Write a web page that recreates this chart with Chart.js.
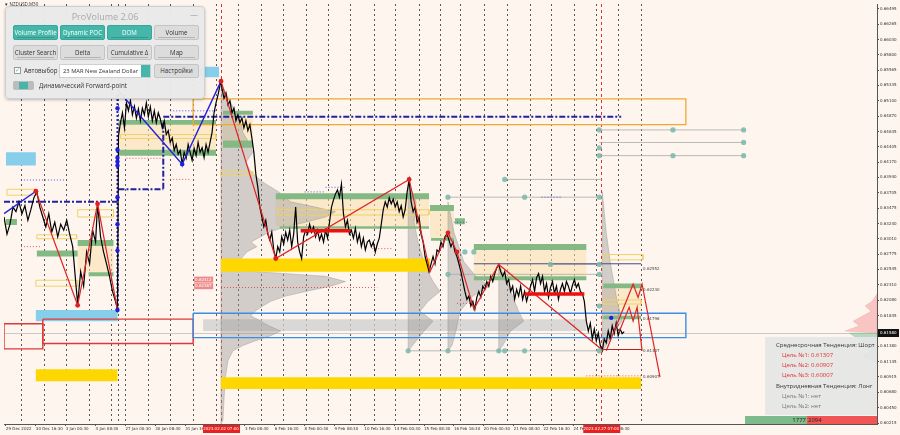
<!DOCTYPE html>
<html>
<head>
<meta charset="utf-8">
<script src="https://cdn.jsdelivr.net/npm/chart.js@4.4.1/dist/chart.umd.min.js"></script>
<style>
html, body { margin: 0; padding: 0; background: #fdf5ee; }
#wrap { position: relative; width: 900px; height: 435px; overflow: hidden; font-family: "Open Sans", Roboto, sans-serif; }
#wrap canvas { position: absolute; left: 0; top: 0; }
.sym { position: absolute; left: 4px; top: 1px; font-size: 4.5px; color: #333; }
.pv { position: absolute; left: 5px; top: 6px; width: 198px; height: 91px; background: rgba(233,233,233,0.96); border: 1px solid #cfcfcf; border-radius: 4px; box-shadow: 0 1px 3px rgba(0,0,0,.25); }
.pv-title { position: absolute; left: 0; top: 3px; width: 100%; text-align: center; font-size: 9px; color: #a8a8a8; }
.pv-min { position: absolute; right: 6px; top: 1px; font-size: 8px; color: #999; }
.btn { position: absolute; width: 45px; height: 15px; border-radius: 2px; font-size: 6.2px; line-height: 14px; text-align: center; box-sizing: border-box; white-space: nowrap; }
.btn.on { background: #45b7aa; color: #fff; border: 1px solid #3aa598; }
.btn.off { background: #dcdcdc; color: #333; border: 1px solid #c4c4c4; }
.btn i { position: absolute; left: 3px; right: 3px; bottom: 1px; height: 1px; background: rgba(0,0,0,0.18); }
.chk { position: absolute; left: 8px; top: 60px; width: 5px; height: 5px; border: 1px solid #999; background: #fff; font-size: 6px; line-height: 5px; color: #45b7aa; }
.lbl { position: absolute; font-size: 6.2px; color: #333; white-space: nowrap; }
.dd { position: absolute; left: 53px; top: 57px; width: 92px; height: 14px; background: #fff; border: 1px solid #cfcfcf; box-sizing: border-box; font-size: 5.8px; line-height: 12px; padding-left: 3px; color: #333; white-space: nowrap; overflow: hidden; }
.dd b { position: absolute; right: 0; top: 0; width: 9px; height: 12px; background: #45b7aa; }
.tg { position: absolute; left: 7px; top: 74px; width: 21px; height: 9px; background: #bcbcbc; border-radius: 2px; }
.tg b { position: absolute; left: 6px; top: 1px; width: 9px; height: 7px; background: #45b7aa; }
.info { position: absolute; left: 765px; top: 337px; width: 112px; height: 78px; background: rgba(229,229,229,0.93); }
.info div { position: absolute; font-size: 6px; white-space: nowrap; }
.bar { position: absolute; top: 416px; height: 8px; font-size: 6px; line-height: 8px; color: #222; box-sizing: border-box; }
</style>
</head>
<body>
<div id="wrap">
  <canvas id="c" width="900" height="435"></canvas>
  <div class="sym">▼ NZDUSD,M30</div>
  <div class="pv">
    <div class="pv-title">ProVolume 2.06</div>
    <div class="pv-min">—</div>
    <div class="btn on" style="left:7px;top:18px">Volume Profile<i></i></div>
    <div class="btn on" style="left:54px;top:18px">Dynamic POC<i></i></div>
    <div class="btn on" style="left:101px;top:18px">DOM<i></i></div>
    <div class="btn off" style="left:148px;top:18px">Volume<i></i></div>
    <div class="btn off" style="left:7px;top:38px">Cluster Search<i></i></div>
    <div class="btn off" style="left:54px;top:38px">Delta<i></i></div>
    <div class="btn off" style="left:101px;top:38px">Cumulative Δ<i></i></div>
    <div class="btn off" style="left:148px;top:38px">Map<i></i></div>
    <div class="chk">✓</div>
    <div class="lbl" style="left:18px;top:59px">Автовыбор</div>
    <div class="dd">23 MAR New Zealand Dollar<b></b></div>
    <div class="btn off" style="left:148px;top:57px;height:14px;line-height:12px">Настройки</div>
    <div class="tg"><b></b></div>
    <div class="lbl" style="left:33px;top:74px">Динамический Forward-point</div>
  </div>
  <div class="info">
    <div style="left:11px;top:4px;color:#333">Среднесрочная Тенденция: Шорт</div>
    <div style="left:17px;top:14px;color:#e03030">Цель №1: 0.61307</div>
    <div style="left:17px;top:24px;color:#e03030">Цель №2: 0.60907</div>
    <div style="left:17px;top:34px;color:#e03030">Цель №3: 0.60007</div>
    <div style="left:11px;top:45px;color:#333">Внутридневная Тенденция: Лонг</div>
    <div style="left:17px;top:55px;color:#777">Цель №1: нет</div>
    <div style="left:17px;top:65px;color:#777">Цель №2: нет</div>
  </div>
  <div class="bar" style="left:745px;width:62px;background:#7dbb8d;text-align:right;padding-right:1px">1777</div>
  <div class="bar" style="left:807px;width:70px;background:#f05454;padding-left:1px">2094</div>
</div>
<script>
// ── Axis data ─────────────────────────
const yTicks = [0.66495, 0.66265, 0.66030, 0.65800, 0.65565, 0.65335, 0.65100, 0.64870, 0.64635, 0.64405,
    0.64170, 0.63940, 0.63705, 0.63475, 0.63240, 0.63010, 0.62775, 0.62545, 0.62310, 0.62080,
    0.61845, 0.61380, 0.61145, 0.60915, 0.60680, 0.60450, 0.60215];
const xTickPos = [2, 32, 62, 92, 122, 152, 182, 212, 242, 272, 302, 332, 362, 392, 422, 452, 482, 512, 542, 572, 602];
const xLabels = ['29 Dec 2022', '30 Dec 16:30', '3 Jan 00:30', '4 Jan 08:30', '27 Jan 00:30', '30 Jan 08:30',
    '31 Jan 16:30', '2 Feb 00:30', '3 Feb 08:30', '6 Feb 16:30', '8 Feb 00:30', '9 Feb 08:30', '10 Feb 16:30',
    '14 Feb 00:30', '15 Feb 08:30', '16 Feb 16:30', '20 Feb 00:30', '21 Feb 08:30', '22 Feb 16:30',
    '24 Feb 00:30', '27 Feb 08:30'];
const daySeps = [17, 40, 62, 85, 107, 115, 122, 145, 167, 190, 213, 235, 258, 280, 303, 325, 348, 372, 393,
    417, 438, 458, 482, 505, 528, 550, 573, 595, 617, 640];
const sessionMarks = [[218, '2023.02.02 07:00'], [600, '2023.02.27 07:00']];
const lastPrice = 0.61580;

// ── Price (bar index / close) ─────────
const priceX = [0, 3, 6, 9, 12, 15, 18, 21, 24, 27, 30, 33, 36, 39, 42, 45, 48, 51, 54, 57, 60, 63, 66, 69, 72, 74, 77,
    80, 83, 86, 89, 92, 94, 97, 100, 103, 106, 109, 112, 114,
    115, 117, 119, 121, 123, 125, 127, 129, 131, 133, 135, 137, 139, 141, 143, 145, 147, 149, 151, 153, 155, 157,
    159, 161, 163, 165, 167, 169, 171, 173, 175, 177, 179, 181, 183, 185, 187, 189, 191, 193, 195, 197, 199, 201,
    203, 205, 207, 209, 211, 213, 215, 217, 218,
    219, 221, 223, 225, 227, 229, 231, 233, 235, 237, 239, 241, 243, 245, 247, 249, 251, 253, 255, 257, 259, 261,
    263, 265, 267, 269, 271, 273, 275, 277, 279, 281, 283, 285, 287, 289, 291, 293, 295, 297, 299, 301, 303, 305,
    307, 309, 311, 313, 315, 317, 319, 321, 323, 325, 327, 329, 331, 333, 335, 337, 339, 341, 343, 345, 347, 349,
    351, 353, 355, 357, 359, 361, 363, 365, 367, 369, 371, 373, 375, 377, 379, 381, 383, 385, 387, 389, 391, 393,
    395, 397, 399, 401, 403, 405, 407,
    409, 411, 413, 415, 417, 419, 421, 423, 425, 427, 429, 431, 433, 435, 437, 439, 441, 443, 445, 447, 449, 451,
    453, 455, 457, 459, 461, 463, 465, 467, 469, 471, 473, 475, 477, 479, 481, 483, 485, 487, 489, 491, 493, 495,
    497, 499, 501, 503, 505, 507, 509, 511, 513, 515, 517, 519, 521, 523, 525, 527, 529, 531, 533, 535, 537, 539,
    541, 543, 545, 547, 549, 551, 553, 555, 557, 559, 561, 563, 565, 567, 569, 571, 573, 575, 577, 579, 581, 583,
    585, 587, 589, 591, 593, 595, 597, 599, 601, 603, 605, 607, 609, 611, 613, 615, 617, 619, 621, 623];
const priceY = [0.6334, 0.6308, 0.6323, 0.6349, 0.6342, 0.6357, 0.6339, 0.6351, 0.6329, 0.6345, 0.6363, 0.6372,
    0.6349, 0.6334, 0.6319, 0.6339, 0.6311, 0.6326, 0.6304, 0.6323, 0.6314, 0.6329, 0.6308, 0.6289, 0.6236,
    0.6202, 0.6251, 0.6229, 0.6281, 0.6263, 0.6314, 0.6296, 0.6354, 0.6304, 0.6281, 0.6263, 0.6244, 0.6221,
    0.6206, 0.6194,
    0.6457, 0.6477, 0.6492, 0.6469, 0.6507, 0.6495, 0.6511, 0.6489, 0.6502, 0.6484, 0.6498, 0.6480, 0.6499,
    0.6489, 0.6507, 0.6486, 0.6501, 0.6480, 0.6495, 0.6477, 0.6492, 0.6483, 0.6469, 0.6480, 0.6459, 0.6465,
    0.6447, 0.6454, 0.6435, 0.6444, 0.6429, 0.6435, 0.6414, 0.6432, 0.6423, 0.6444, 0.6432, 0.6420, 0.6438,
    0.6427, 0.6447, 0.6432, 0.6439, 0.6424, 0.6444, 0.6432, 0.6447, 0.6462, 0.6492, 0.6507, 0.6519, 0.6534, 0.6540,
    0.6529, 0.6514, 0.6522, 0.6504, 0.6510, 0.6492, 0.6499, 0.6480, 0.6489, 0.6477, 0.6484, 0.6469, 0.6480,
    0.6465, 0.6474, 0.6454, 0.6432, 0.6399, 0.6379, 0.6349, 0.6334, 0.6319, 0.6329, 0.6308, 0.6299, 0.6311,
    0.6284, 0.6271, 0.6289, 0.6281, 0.6304, 0.6293, 0.6311, 0.6299, 0.6314, 0.6289, 0.6308, 0.6349, 0.6296,
    0.6281, 0.6271, 0.6304, 0.6314, 0.6308, 0.6323, 0.6311, 0.6319, 0.6304, 0.6314, 0.6299, 0.6308, 0.6296,
    0.6314, 0.6302, 0.6326, 0.6349, 0.6360, 0.6369, 0.6375, 0.6364, 0.6384, 0.6339, 0.6319, 0.6329, 0.6308,
    0.6314, 0.6302, 0.6317, 0.6296, 0.6308, 0.6289, 0.6302, 0.6284, 0.6296, 0.6299, 0.6289, 0.6296, 0.6281,
    0.6293, 0.6302, 0.6323, 0.6345, 0.6357, 0.6349, 0.6363, 0.6354, 0.6361, 0.6349, 0.6357, 0.6342, 0.6351,
    0.6334, 0.6345, 0.6372, 0.6390,
    0.6357, 0.6342, 0.6349, 0.6326, 0.6334, 0.6308, 0.6296, 0.6274, 0.6263, 0.6251, 0.6263, 0.6274, 0.6263,
    0.6284, 0.6281, 0.6296, 0.6289, 0.6304, 0.6308, 0.6299, 0.6289, 0.6296, 0.6281, 0.6274, 0.6263, 0.6251,
    0.6236, 0.6221, 0.6209, 0.6214, 0.6199, 0.6206, 0.6194, 0.6212, 0.6221, 0.6212, 0.6229, 0.6224, 0.6236,
    0.6229, 0.6244, 0.6236, 0.6248, 0.6257, 0.6262, 0.6251, 0.6244, 0.6251, 0.6233, 0.6239, 0.6221, 0.6229,
    0.6209, 0.6224, 0.6214, 0.6229, 0.6209, 0.6221, 0.6206, 0.6218, 0.6229, 0.6239, 0.6221, 0.6242, 0.6248,
    0.6233, 0.6244, 0.6221, 0.6233, 0.6212, 0.6227, 0.6236, 0.6218, 0.6229, 0.6209, 0.6224, 0.6233, 0.6221,
    0.6236, 0.6229, 0.6218, 0.6230, 0.6239, 0.6227, 0.6233, 0.6221, 0.6218, 0.6206, 0.6176, 0.6161, 0.6173,
    0.6149, 0.6164, 0.6146, 0.6158, 0.6139, 0.6131, 0.6149, 0.6143, 0.6161, 0.6149, 0.6169, 0.6157, 0.6173,
    0.6154, 0.6164, 0.6157, 0.6160];

// ── Zones [x1, x2, top, bottom] ───────
const peachZones = [[115, 213, 0.6474, 0.6436], [74, 110, 0.6290, 0.6250], [220, 250, 0.6489, 0.6450],
    [273, 427, 0.6361, 0.6320], [428, 452, 0.6343, 0.6302], [472, 585, 0.6284, 0.6244], [602, 640, 0.6226, 0.6184]];
const greenZones = [[2, 13, 0.6331, 0.6322], [33, 74, 0.6283, 0.6274], [74, 110, 0.6299, 0.6290],
    [85, 110, 0.6250, 0.6244], [115, 213, 0.6481, 0.6474], [115, 213, 0.6436, 0.6427], [220, 250, 0.6495, 0.6489],
    [220, 250, 0.6450, 0.6439], [273, 427, 0.6370, 0.6361], [277, 427, 0.6320, 0.6316], [428, 452, 0.6352, 0.6343],
    [453, 463, 0.6332, 0.6323], [472, 585, 0.6293, 0.6284], [472, 585, 0.6244, 0.6238], [429, 452, 0.6302, 0.6298],
    [602, 640, 0.6233, 0.6226], [602, 640, 0.6184, 0.6179]];
const goldZones = [[32, 114, 0.6103, 0.6085], [218, 640, 0.6091, 0.6073], [218, 428, 0.6271, 0.6251]];
const skyZones = [[2, 32, 0.6432, 0.6412], [185, 216, 0.6562, 0.6546], [32, 114, 0.6193, 0.6176]];
const grayBand = [[200, 585, 0.6179, 0.6161]];
const redBoxes = [[0, 39, 0.6172, 0.6134], [39, 190, 0.6179, 0.6142]];
const blueBoxes = [[190, 685, 0.6188, 0.6151]];
const orangeBoxes = [[190, 685, 0.6513, 0.6474]];
const yellowBoxes = [[3, 32, 0.6376, 0.6367], [33, 73, 0.6307, 0.6301], [74, 110, 0.6345, 0.6334],
    [117, 213, 0.6459, 0.6453], [32, 74, 0.6238, 0.6229], [275, 427, 0.6345, 0.6337], [218, 250, 0.6403, 0.6397],
    [602, 642, 0.6277, 0.6269], [602, 640, 0.6208, 0.6202]];

// ── Levels [x1, x2, price] ────────────
const navyDashDot = [[160, 620, 0.6486], [0, 114, 0.6357], [115, 160, 0.6376]];
const navyVert = [[160, 0.6477, 0.6376]];
const blueVert = [[114, 0.6519, 0.6193]];
const blueDash = [[17, 62, 0.6390], [167, 213, 0.6495], [302, 323, 0.6372], [323, 343, 0.6379], [452, 467, 0.6326], [540, 560, 0.6364]];
const redDash = [[123, 160, 0.6423], [167, 188, 0.6391], [17, 37, 0.6289], [218, 375, 0.6227], [370, 390, 0.6286], [455, 470, 0.6203], [585, 640, 0.6093]];
const grayLines = [[598, 745, 0.6466], [598, 745, 0.6447], [598, 745, 0.6427], [446, 601, 0.6364], [503, 601, 0.6391],
    [549, 601, 0.6262], [406, 601, 0.6131], [446, 601, 0.6247]];
const slateLine = [[472, 640, 0.6263]];
const thickRed = [[298, 348, 0.6313], [523, 583, 0.6217]];
const targetLine = [[602, 640, 0.6133]];
const priceMarks = [0.62552, 0.62230, 0.61798, 0.61307, 0.60907];
const pinkMarks = [['0.62412', 0.6239], ['0.62367', 0.6229]];

// ── Zigzags [x, price] ────────────────
const blueZig1 = [[0, 0.6339], [32, 0.6373]];
const blueZig2 = [[115, 0.6525], [179, 0.6414], [218, 0.6540]];
const redZig1 = [[32, 0.6373], [74, 0.6200], [94, 0.6354], [114, 0.6193]];
const redZig2 = [[218, 0.6540], [273, 0.6271], [407, 0.6391], [428, 0.6251], [446, 0.6310], [455, 0.6281],
    [472, 0.6194], [497, 0.6262], [602, 0.6131]];
const proj1 = [[605, 0.6131], [632, 0.6232], [637, 0.6212], [641, 0.6232], [659, 0.6091]];
const proj2 = [[618, 0.6160], [628, 0.6197], [632, 0.6176], [636, 0.6197], [641, 0.6131]];
const redPts = [[32, 0.6373], [74, 0.6200], [94, 0.6354], [218, 0.6540], [273, 0.6271], [407, 0.6391], [446, 0.6310], [455, 0.6281]];
const bluePts = [[114, 0.6499], [114, 0.6436], [114, 0.6424], [114, 0.6418], [114, 0.6412], [114, 0.6364], [114, 0.6323],
    [114, 0.6283], [114, 0.6193], [179, 0.6414], [610, 0.6181]];
const tealPts = [[598, 0.6466], [598, 0.6439], [598, 0.6427], [598, 0.6364], [598, 0.6262], [598, 0.6247], [598, 0.6199],
    [598, 0.6131], [503, 0.6391], [446, 0.6364], [523, 0.6364], [463, 0.6281], [472, 0.6281], [549, 0.6262],
    [446, 0.6247], [406, 0.6131], [446, 0.6131], [497, 0.6131], [503, 0.6131], [523, 0.6131], [672, 0.6466],
    [743, 0.6466], [672, 0.6427], [743, 0.6447], [743, 0.6427]];

// ── Volume profiles ───────────────────
const profA = { x: 218, levels: [0.6537, 0.6522, 0.6507, 0.6492, 0.6477, 0.6462, 0.6447, 0.6432, 0.6417, 0.6402,
    0.6387, 0.6372, 0.6357, 0.6349, 0.6342, 0.6334, 0.6326, 0.6319, 0.6311, 0.6304, 0.6296, 0.6289, 0.6281,
    0.6274, 0.6266, 0.6259, 0.6251, 0.6244, 0.6236, 0.6229, 0.6221, 0.6214, 0.6206, 0.6199, 0.6191, 0.6184,
    0.6176, 0.6169, 0.6161, 0.6154, 0.6146, 0.6139, 0.6131, 0.6116, 0.6086, 0.6026, 0.6020],
    widths: [0, 5, 10, 15, 20, 22, 28, 32, 25, 30, 42, 58, 70, 95, 115, 105, 85, 65, 48, 40, 30, 36, 26, 22, 18,
    22, 35, 105, 125, 110, 85, 65, 50, 42, 34, 30, 40, 48, 60, 50, 34, 22, 12, 7, 4, 2, 0] };
const profB = { x: 406, levels: [0.6387, 0.6357, 0.6326, 0.6296, 0.6266, 0.6251, 0.6236, 0.6221, 0.6206, 0.6191, 0.6176, 0.6161, 0.6146, 0.6131],
    widths: [0, 8, 6, 10, 16, 20, 25, 32, 20, 12, 25, 16, 8, 0] };
const profC = { x: 446, levels: [0.6357, 0.6311, 0.6266, 0.6244, 0.6229, 0.6214, 0.6191, 0.6161, 0.6139, 0.6131],
    widths: [0, 6, 16, 28, 42, 25, 12, 8, 4, 0] };
const profD = { x: 497, levels: [0.6262, 0.6236, 0.6206, 0.6191, 0.6176, 0.6161, 0.6139, 0.6131],
    widths: [0, 8, 16, 20, 25, 12, 4, 0] };
const profE = { x: 601, levels: [0.6372, 0.6311, 0.6266, 0.6206, 0.6176, 0.6161, 0.6139, 0.6131],
    widths: [0, 4, 8, 15, 20, 12, 4, 0] };
const sellVol = { x: 877, levels: [0.6217, 0.6206, 0.6199, 0.6191, 0.6184, 0.6176, 0.6169, 0.6161, 0.6158],
    widths: [0, 5, 12, 6, 14, 24, 18, 32, 0] };
const buyVol = { x: 877, levels: [0.6158, 0.6152, 0.6146, 0.6139, 0.6131, 0.6124, 0.6116, 0.6109],
    widths: [28, 22, 14, 8, 6, 14, 4, 0] };

// ── Build datasets ────────────────────
const layers = [];
const add = d => layers.push(Object.assign({ pointRadius: 0, borderWidth: 1, fill: false, tension: 0 }, d));
const boxPts = b => [{ x: b[0], y: b[2] }, { x: b[1], y: b[2] }, { x: b[1], y: b[3] }, { x: b[0], y: b[3] }, { x: b[0], y: b[2] }];
const pairPts = arr => arr.map(p => ({ x: p[0], y: p[1] }));
const profPts = (pr, dir) => {
    const pts = [{ x: pr.x, y: pr.levels[0] }];
    pr.levels.forEach((p, i) => pts.push({ x: pr.x + dir * pr.widths[i], y: p }));
    pts.push({ x: pr.x, y: pr.levels[pr.levels.length - 1] });
    pts.push({ x: pr.x, y: pr.levels[0] });
    return pts;
};
const fillBox = (list, color) => list.forEach(b => add({ data: boxPts(b), fill: 'shape', backgroundColor: color, borderColor: color, borderWidth: 0 }));
const outlineBox = (list, color, w) => list.forEach(b => add({ data: boxPts(b), borderColor: color, borderWidth: w }));
const hLines = (list, color, w, dash) => list.forEach(l => add({ data: [{ x: l[0], y: l[2] }, { x: l[1], y: l[2] }], borderColor: color, borderWidth: w, borderDash: dash || [] }));

fillBox(peachZones, 'rgba(250,222,172,0.55)');
fillBox(grayBand, 'rgba(205,205,205,0.75)');
[profA, profB, profC, profD, profE].forEach(pr => add({ data: profPts(pr, 1), fill: 'shape', backgroundColor: 'rgba(150,150,150,0.42)', borderColor: 'rgba(130,130,130,0.55)', borderWidth: 0.6 }));
add({ data: profPts(sellVol, -1), fill: 'shape', backgroundColor: 'rgba(242,140,140,0.45)', borderColor: 'rgba(242,140,140,0.5)', borderWidth: 0.5 });
add({ data: profPts(buyVol, -1), fill: 'shape', backgroundColor: 'rgba(120,190,145,0.5)', borderColor: 'rgba(120,190,145,0.5)', borderWidth: 0.5 });
fillBox(greenZones, '#84b984');
fillBox(goldZones, '#ffd700');
fillBox(skyZones, '#87ceeb');
outlineBox(redBoxes, '#e03838', 1.4);
outlineBox(blueBoxes, '#3a8ee6', 1.4);
outlineBox(orangeBoxes, '#f0a830', 1.3);
outlineBox(yellowBoxes, '#f2d266', 1);
hLines(grayLines, 'rgba(170,170,170,0.8)', 1);
hLines(slateLine, '#4a4a88', 1);
hLines(blueDash, 'rgba(60,60,220,0.85)', 1, [1, 2]);
hLines(redDash, 'rgba(225,60,60,0.85)', 1, [1, 2]);
hLines(navyDashDot, '#2222a0', 2, [6, 2, 2, 2]);
navyVert.forEach(v => add({ data: [{ x: v[0], y: v[1] }, { x: v[0], y: v[2] }], borderColor: '#2222a0', borderWidth: 2, borderDash: [6, 2, 2, 2] }));
blueVert.forEach(v => add({ data: [{ x: v[0], y: v[1] }, { x: v[0], y: v[2] }], borderColor: '#2222c0', borderWidth: 2, borderDash: [2, 2] }));
add({ data: priceX.map((x, i) => ({ x, y: priceY[i] })), borderColor: '#000', borderWidth: 1.2 });
[blueZig1, blueZig2].forEach(z => add({ data: pairPts(z), borderColor: '#2323d8', borderWidth: 1.4 }));
[redZig1, redZig2, proj1, proj2].forEach(z => add({ data: pairPts(z), borderColor: '#e02424', borderWidth: 1.2 }));
hLines(targetLine, '#c02020', 1.2);
hLines(thickRed, '#ee1010', 3.5);
add({ data: pairPts(tealPts), showLine: false, pointRadius: 2.6, pointBackgroundColor: 'rgba(120,185,170,0.85)', pointBorderWidth: 0 });
add({ data: pairPts(bluePts), showLine: false, pointRadius: 2.2, pointBackgroundColor: '#1e1ee0', pointBorderWidth: 0 });
add({ data: pairPts(redPts), showLine: false, pointRadius: 2.4, pointBackgroundColor: '#e02020', pointBorderWidth: 0 });
layers.forEach((d, i) => { d.order = layers.length - i; });

// ── Overlay drawing ───────────────────
const overlay = {
    id: 'overlay',
    beforeDraw(chart) {
        const c = chart.ctx;
        c.save(); c.fillStyle = '#fdf5ee'; c.fillRect(0, 0, chart.width, chart.height); c.restore();
    },
    beforeDatasetsDraw(chart) {
        const { ctx, scales: { x, y }, chartArea: a } = chart;
        ctx.save();
        ctx.lineWidth = 1;
        ctx.strokeStyle = 'rgba(60,60,60,0.85)';
        ctx.setLineDash([2, 3]);
        daySeps.forEach(v => {
            const px = Math.round(x.getPixelForValue(v)) + 0.5;
            ctx.beginPath(); ctx.moveTo(px, a.top); ctx.lineTo(px, a.bottom); ctx.stroke();
        });
        ctx.strokeStyle = '#e03030';
        ctx.setLineDash([3, 3]);
        sessionMarks.forEach(m => {
            const px = Math.round(x.getPixelForValue(m[0])) + 0.5;
            ctx.beginPath(); ctx.moveTo(px, a.top); ctx.lineTo(px, a.bottom); ctx.stroke();
        });
        ctx.setLineDash([]);
        ctx.strokeStyle = '#c9c9c9';
        const py = Math.round(y.getPixelForValue(lastPrice)) + 0.5;
        ctx.beginPath(); ctx.moveTo(a.left, py); ctx.lineTo(a.right, py); ctx.stroke();
        ctx.restore();
    },
    afterDraw(chart) {
        const { ctx, scales: { x, y }, chartArea: a } = chart;
        ctx.save();
        ctx.font = '4px "DejaVu Sans", sans-serif';
        ctx.textBaseline = 'middle';
        // level labels
        ctx.fillStyle = '#444';
        priceMarks.forEach(p => ctx.fillText(p.toFixed(5), x.getPixelForValue(642), y.getPixelForValue(p)));
        // pink level tags
        pinkMarks.forEach(m => {
            const py = y.getPixelForValue(m[1]);
            ctx.fillStyle = '#ef8a8a'; ctx.fillRect(x.getPixelForValue(191), py - 3, 19, 6);
            ctx.fillStyle = '#fff'; ctx.fillText(m[0], x.getPixelForValue(192), py);
        });
        // session date tags on the time axis
        ctx.textAlign = 'center';
        sessionMarks.forEach(m => {
            const px = x.getPixelForValue(m[0]);
            ctx.fillStyle = '#e82020'; ctx.fillRect(px - 18, a.bottom + 1, 37, 8);
            ctx.fillStyle = '#fff'; ctx.fillText(m[1], px, a.bottom + 5);
        });
        // current price tag
        const py = y.getPixelForValue(lastPrice);
        ctx.fillStyle = '#111'; ctx.fillRect(a.right + 1, py - 4, 21, 8);
        ctx.fillStyle = '#fff'; ctx.textAlign = 'left'; ctx.fillText(lastPrice.toFixed(5), a.right + 3, py);
        ctx.restore();
    }
};

new Chart(document.getElementById('c'), {
    type: 'line',
    data: { datasets: layers },
    options: {
        responsive: false,
        animation: false,
        events: [],
        layout: { padding: 0 },
        plugins: { legend: { display: false }, tooltip: { enabled: false } },
        scales: {
            x: {
                type: 'linear', min: 0, max: 877,
                afterBuildTicks: axis => { axis.ticks = xTickPos.map(v => ({ value: v })); },
                afterFit: axis => { axis.height = 11; },
                ticks: { autoSkip: false, maxRotation: 0, align: 'start', padding: 1, color: '#333', font: { size: 4, family: 'DejaVu Sans' },
                    callback: (v, i) => xLabels[i] },
                grid: { drawOnChartArea: false, tickLength: 2, color: '#555' },
                border: { display: true, color: '#555' }
            },
            y: {
                type: 'linear', position: 'right', min: 0.60200, max: 0.66570,
                afterBuildTicks: axis => { axis.ticks = yTicks.map(v => ({ value: v })); },
                afterFit: axis => { axis.width = 23; },
                ticks: { autoSkip: false, padding: 1, color: '#333', font: { size: 4, family: 'DejaVu Sans' },
                    callback: v => v.toFixed(5) },
                grid: { drawOnChartArea: false, tickLength: 2, color: '#555' },
                border: { display: true, color: '#555' }
            }
        }
    },
    plugins: [overlay]
});
</script>
</body>
</html>
